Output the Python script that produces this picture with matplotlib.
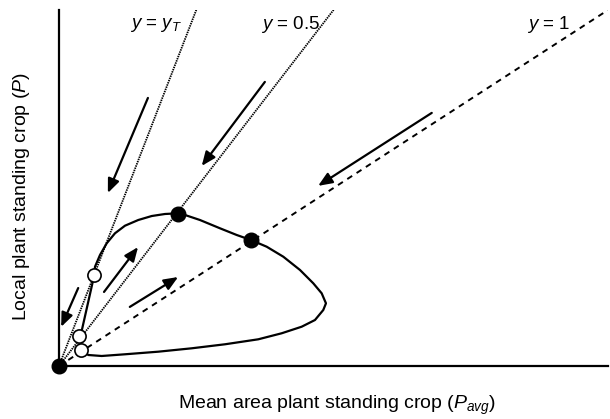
import matplotlib.pyplot as plt

plt.rcParams['font.family'] = ['Liberation Sans', 'DejaVu Sans']
plt.rcParams['mathtext.fontset'] = 'custom'
plt.rcParams['mathtext.rm'] = 'Liberation Sans'
plt.rcParams['mathtext.it'] = 'Liberation Sans:italic'

# isoclines through the origin (P = slope * P_avg)
line_slopes = [4.0, 2.0, 1.0]
line_labels = ['$y$ = $y_T$', '$y$ = 0.5', '$y$ = 1']
label_x = [2.24, 4.75, 9.31]
label_y = [9.58, 9.58, 9.58]

# trajectory
curve_x = [0.413, 0.534, 0.778, 1.202, 1.809, 2.417, 3.024, 3.630, 4.056, 4.421,
           4.663, 4.814, 4.863, 4.785, 4.632, 4.390, 4.086, 3.783, 3.497, 3.237,
           2.933, 2.568, 2.295, 2.173, 1.931, 1.689, 1.444, 1.202, 1.020, 0.869,
           0.747, 0.656, 0.643, 0.413, 0.370]
curve_y = [0.449, 0.309, 0.281, 0.329, 0.402, 0.497, 0.610, 0.750, 0.919, 1.104,
           1.292, 1.573, 1.761, 2.042, 2.323, 2.697, 3.070, 3.351, 3.539, 3.680,
           3.868, 4.101, 4.242, 4.289, 4.270, 4.213, 4.101, 3.941, 3.728, 3.447,
           3.118, 2.789, 2.556, 0.983, 0.843]

# equilibria
stable_x = [0.0, 2.17, 3.49]
stable_y = [0.0, 4.27, 3.54]
unstable_x = [0.64, 0.37, 0.41]
unstable_y = [2.56, 0.84, 0.45]

# arrows (tail -> head)
arrow_tail = [(1.62, 7.53), (3.75, 7.98), (6.79, 7.11), (0.35, 2.19), (0.82, 2.08), (1.29, 1.66)]
arrow_head = [(0.89, 4.86), (2.60, 5.62), (4.72, 5.06), (0.04, 1.10), (1.44, 3.34), (2.17, 2.50)]

fig = plt.figure(figsize=(6.10, 4.19), dpi=100)
ax = fig.add_axes([0.0967, 0.1265, 0.9, 0.8496])
ax.set_xlim(0, 10)
ax.set_ylim(0, 10)

styles = [(0, (0.8, 0.5)), (0, (0.8, 0.5)), (0, (3, 2.7))]
widths = [1.3, 1.3, 1.4]
for s, ls, lw in zip(line_slopes, styles, widths):
    ax.plot([0, 10], [0, 10 * s], color='black', linestyle=ls, lw=lw)
for lab, x, y in zip(line_labels, label_x, label_y):
    ax.text(x, y, lab, ha='right', va='center', fontsize=13.5)

ax.plot(curve_x, curve_y, color='black', lw=1.6, solid_joinstyle='round')

for t, h in zip(arrow_tail, arrow_head):
    ax.annotate('', xy=h, xytext=t,
                arrowprops=dict(arrowstyle='-|>,head_length=0.6,head_width=0.25',
                                mutation_scale=14, lw=1.6, color='black',
                                shrinkA=0, shrinkB=0))

ax.plot(unstable_x, unstable_y, 'o', ms=9.5, mfc='white', mec='black', mew=1.2, zorder=5)
ax.plot(stable_x, stable_y, 'o', ms=10.5, color='black', zorder=6, clip_on=False)

for side in ['top', 'right']:
    ax.spines[side].set_visible(False)
for side in ['left', 'bottom']:
    ax.spines[side].set_linewidth(1.6)
ax.set_xticks([])
ax.set_yticks([])

fig.text(0.552, 0.033, 'Mean area plant standing crop ($P_{avg}$)', ha='center', va='center', fontsize=14)
fig.text(0.036, 0.532, 'Local plant standing crop ($P$)', ha='center', va='center',
         rotation=90, fontsize=14)

fig.savefig('out.png', dpi=100)
